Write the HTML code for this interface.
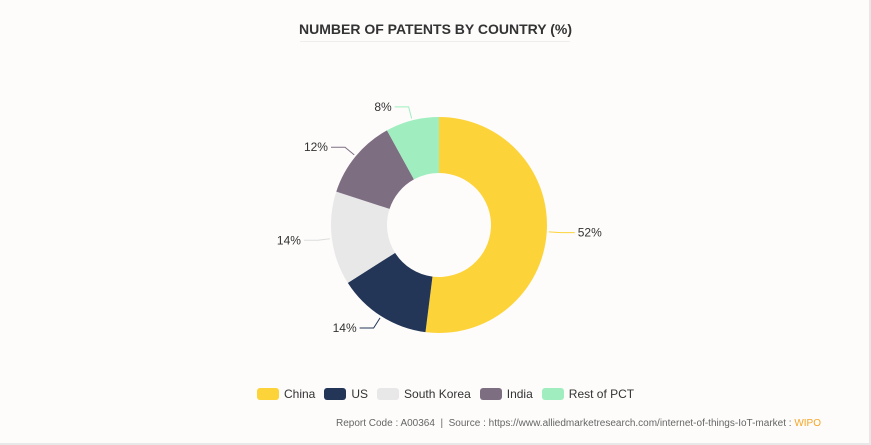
<!DOCTYPE html>
<html><head><meta charset="utf-8"><style>
body{margin:0;background:#fff;}
#wrap{position:relative;width:871px;height:445px;background:#fdfcfb;font-family:"Liberation Sans",sans-serif;overflow:hidden;border-right:2px solid #e8e8e8;border-bottom:2px solid #e8e8e8;box-sizing:border-box}
#title{position:absolute;left:0;width:871px;top:21px;text-align:center;font-weight:bold;font-size:14px;color:#333}
#tline{position:absolute;left:300px;top:41px;width:270px;height:1px;background:#eee}
#legend{position:absolute;top:387px;left:257px;font-size:12px;color:#333;display:flex;gap:0}
.li{display:flex;align-items:center;margin-right:9px}
.sw{width:22px;height:12px;border-radius:3px;margin-right:5px}
#foot{position:absolute;top:418px;right:48px;font-size:10px;color:#666}
#foot span{color:#f5a623}
</style></head><body>
<div id="wrap">
<div id="title">NUMBER OF PATENTS BY COUNTRY (%)</div>
<div id="tline"></div>
<svg id="chart" width="871" height="445" style="position:absolute;left:0;top:0"></svg>
<div id="legend">
<div class="li"><div class="sw" style="background:#fdd33a"></div>China</div>
<div class="li"><div class="sw" style="background:#233657"></div>US</div>
<div class="li"><div class="sw" style="background:#e8e8e8"></div>South Korea</div>
<div class="li"><div class="sw" style="background:#7e6e82"></div>India</div>
<div class="li"><div class="sw" style="background:#a0eec0"></div>Rest of PCT</div>
</div>
<div id="foot">Report Code : A00364 &nbsp;|&nbsp; Source : https://www.alliedmarketresearch.com/internet-of-things-IoT-market : <span>WIPO</span></div>
</div>
<script>
const categories=["China","US","South Korea","India","Rest of PCT"];
const values=[52,14,14,12,8];
const colors=["#fdd33a","#233657","#e8e8e8","#7e6e82","#a0eec0"];
const svg=document.getElementById('chart');
const NS="http://www.w3.org/2000/svg";
const cx=439,cy=225,R=108,r=52;
const total=values.reduce((a,b)=>a+b,0);
function pt(a,rad){return [cx+rad*Math.sin(a),cy-rad*Math.cos(a)];}
let acc=0;
values.forEach((v,i)=>{
 const a0=acc/total*2*Math.PI; acc+=v; const a1=acc/total*2*Math.PI;
 const large=(a1-a0)>Math.PI?1:0;
 const p0=pt(a0,R),p1=pt(a1,R),q1=pt(a1,r),q0=pt(a0,r);
 const path=document.createElementNS(NS,'path');
 path.setAttribute('d',`M${p0[0]},${p0[1]}A${R},${R} 0 ${large} 1 ${p1[0]},${p1[1]}L${q1[0]},${q1[1]}A${r},${r} 0 ${large} 0 ${q0[0]},${q0[1]}Z`);
 path.setAttribute('fill',colors[i]);
 
 
 svg.appendChild(path);
 const am=(a0+a1)/2;
 const s=pt(am,R+2),e=pt(am,R+14);
 const right=Math.sin(am)>=0;
 const ex=e[0]+(right?14:-14);
 const line=document.createElementNS(NS,'polyline');
 line.setAttribute('points',`${s[0]},${s[1]} ${e[0]},${e[1]} ${ex},${e[1]}`);
 line.setAttribute('fill','none');
 line.setAttribute('stroke',colors[i]==="#e8e8e8"?"#ddd":colors[i]);
 
 
 svg.appendChild(line);
 const t=document.createElementNS(NS,'text');
 t.setAttribute('x',ex+(right?3:-3));
 t.setAttribute('y',e[1]+4);
 t.setAttribute('text-anchor',right?'start':'end');
 t.setAttribute('font-size','12');
 t.setAttribute('fill','#333');
 t.setAttribute('font-family','Liberation Sans, sans-serif');
 t.textContent=v+'%';
 
 
 svg.appendChild(t);
});
</script>
</body></html>
